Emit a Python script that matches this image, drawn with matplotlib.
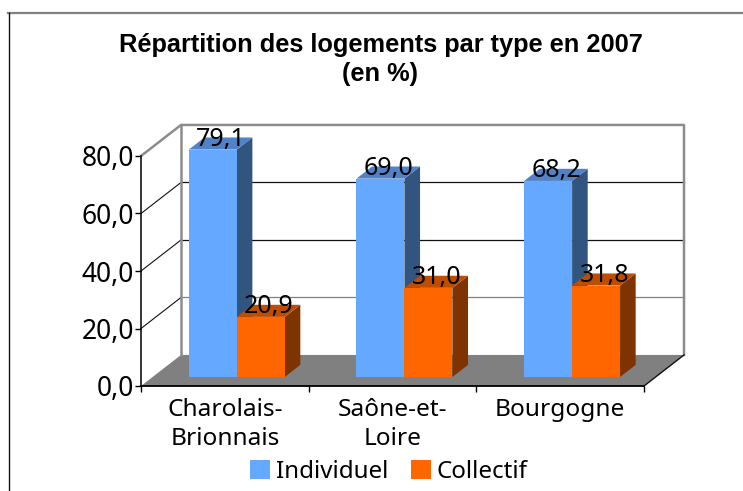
import matplotlib
matplotlib.use('Agg')
import matplotlib.pyplot as plt
from matplotlib.patches import Patch, Polygon

plt.rcParams['font.family'] = ['Noto Sans', 'DejaVu Sans']

categories = ['Charolais-\nBrionnais', 'Saône-et-\nLoire', 'Bourgogne']
individuel = [79.1, 69.0, 68.2]
collectif = [20.9, 31.0, 31.8]
y_ticks = [0, 20, 40, 60, 80]

BLUE = ('#64A8FF', '#4F82C6', '#32557F')
ORANGE = ('#FF6600', '#BF4D00', '#7F3300')

# decalage de la profondeur, en unites de donnees
DX = 0.2386
DY = 10.8
BAR_W = 0.286
BAR_D0 = 0.29
BAR_D1 = 0.68
SHIFT = 0.002

def proj(x, y, d=0):
    return (x + d * DX, y + d * DY)

def bar3d(ax, x, val, colors):
    x2 = x + BAR_W
    front = [proj(x, 0, BAR_D0), proj(x2, 0, BAR_D0), proj(x2, val, BAR_D0), proj(x, val, BAR_D0)]
    top = [proj(x, val, BAR_D0), proj(x2, val, BAR_D0), proj(x2, val, BAR_D1), proj(x, val, BAR_D1)]
    side = [proj(x2, 0, BAR_D0), proj(x2, 0, BAR_D1), proj(x2, val, BAR_D1), proj(x2, val, BAR_D0)]
    for pts, c in [(side, colors[2]), (top, colors[1]), (front, colors[0])]:
        ax.add_patch(Polygon(pts, closed=True, facecolor=c, edgecolor='none', clip_on=False, zorder=4))

fig = plt.figure(figsize=(7.43, 4.91), dpi=100)
ax = fig.add_axes([141 / 743, 105 / 491, 503 / 743, 230 / 491])
ax.set_xlim(0, 3)
ax.set_ylim(0, 80)
ax.patch.set_alpha(0)
ax.spines['top'].set_visible(False)
ax.spines['right'].set_visible(False)
ax.spines['left'].set_linewidth(1.1)
ax.spines['bottom'].set_linewidth(1.3)
ax.spines['left'].set_zorder(6)
ax.spines['bottom'].set_zorder(6)

# sol
floor = [proj(0, 0), proj(3, 0), proj(3, 0, 1), proj(0, 0, 1)]
ax.add_patch(Polygon(floor, closed=True, facecolor='#808080', edgecolor='none', clip_on=False, zorder=1))

# grille sur le mur du fond et le mur de gauche
for v in y_ticks[1:-1]:
    gc = '#808080' if v == 20 else '#111111'
    ax.plot(*zip(proj(0, v, 1), proj(3, v, 1)), color=gc, lw=0.9, clip_on=False, zorder=2)
    ax.plot(*zip(proj(0, v), proj(0, v, 1)), color='#111111', lw=0.8, clip_on=False, zorder=2)

# cadre gris
wall = [proj(0, 80), proj(0, 80, 1), proj(3, 80, 1), proj(3, 0, 1)]
ax.plot(*zip(*wall), color='#8C8C8C', lw=1.8, clip_on=False, zorder=3)
ax.plot(*zip(proj(0, 80, 1), proj(0, 0, 1)), color='#8C8C8C', lw=1.8, clip_on=False, zorder=3)
ax.plot(*zip(proj(3, 0), proj(3, 0, 1)), color='#111111', lw=1, clip_on=False, zorder=3)

for i in range(len(categories)):
    x0 = i + 0.5 - BAR_W + SHIFT
    bar3d(ax, x0, individuel[i], BLUE)
    bar3d(ax, x0 + BAR_W, collectif[i], ORANGE)
    for x, val in [(x0, individuel[i]), (x0 + BAR_W, collectif[i])]:
        ax.annotate(f'{val:.1f}'.replace('.', ','), proj(x + BAR_W / 2, val, BAR_D0),
                    xytext=(6, 2.5), textcoords='offset points', ha='center', va='baseline',
                    fontsize=18, color='black', zorder=7, annotation_clip=False)

ax.set_yticks(y_ticks)
ax.set_yticklabels([f'{v:.1f}'.replace('.', ',') for v in y_ticks], fontsize=19)
ax.set_xticks([0, 1, 2, 3])
ax.set_xticklabels([])
ax.set_xticks([0.5, 1.5, 2.5], minor=True)
ax.set_xticklabels(categories, minor=True, fontsize=17.6, linespacing=1.27)
ax.tick_params(axis='x', which='minor', length=0, pad=9)
ax.tick_params(axis='both', which='major', length=4, width=1, pad=1)

handles = [Patch(facecolor=BLUE[0], label='Individuel'), Patch(facecolor=ORANGE[0], label='Collectif')]
fig.legend(handles=handles, ncol=2, frameon=False, loc='center', bbox_to_anchor=(389 / 743, 1 - 472 / 491),
           fontsize=17.4, handlelength=0.8, handleheight=0.8, handletextpad=0.26, columnspacing=0.95,
           borderpad=0, borderaxespad=0)

fig.text(380.5 / 743, 1 - 33 / 491, 'Répartition des logements par type en 2007\n(en %)', ha='center', va='top',
         fontsize=18.3, fontweight='bold', family='Liberation Sans', linespacing=1.27)

# bord de la zone du graphique
fig.add_artist(plt.Line2D([8 / 743, 1], [1 - 12.5 / 491, 1 - 12.5 / 491], color='#808080', lw=1.6))
fig.add_artist(plt.Line2D([8.5 / 743, 8.5 / 743], [0, 1 - 12.5 / 491], color='#111111', lw=1))

fig.savefig('out.png', dpi=100)
